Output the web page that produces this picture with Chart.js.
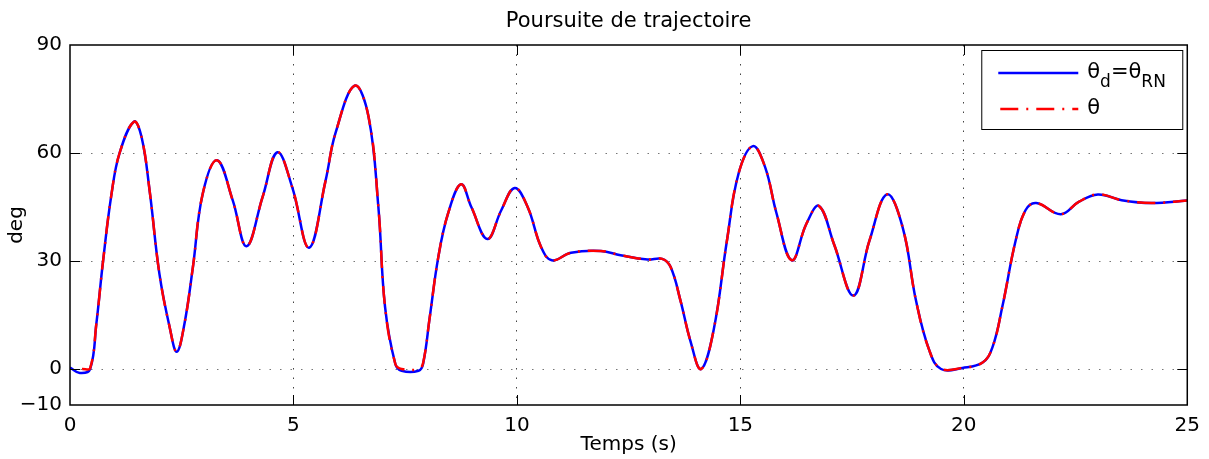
<!DOCTYPE html>
<html lang="fr">
<head>
<meta charset="UTF-8">
<title>Poursuite de trajectoire</title>
<script src="https://cdn.jsdelivr.net/npm/chart.js"></script>
<style>
    body { margin: 0; background: #fff; }
    #wrap { width: 1209px; height: 459px; }
</style>
</head>
<body>
<div id="wrap"><canvas id="chart" width="1209" height="459"></canvas></div>
<script>
    // consigne theta_d = theta_RN (deg)
    const tempsD = [0, 0.22, 0.45, 0.59, 0.74, 0.93, 1.11, 1.43, 1.6, 1.78, 2.0, 2.23, 2.39, 2.56, 2.75, 2.97,
        3.29, 3.64, 3.95, 4.31, 4.64, 4.97, 5.35, 5.72, 5.94, 6.37, 6.68, 6.9, 7.05, 7.28, 7.42, 7.8, 7.9,
        8.05, 8.24, 8.46, 8.75, 8.98, 9.34, 9.65, 9.95, 10.24, 10.54, 10.78, 11.21, 11.88, 12.32, 12.92,
        13.25, 13.44, 13.66, 13.88, 14.12, 14.4, 14.7, 14.96, 15.28, 15.55, 15.81, 16.15, 16.48, 16.76,
        17.1, 17.53, 17.89, 18.28, 18.63, 18.93, 19.23, 19.49, 19.97, 20.42, 20.64, 20.86, 21.16, 21.38,
        21.62, 22.17, 22.57, 23.0, 23.53, 24.2, 25];
    const thetaD = [0.4, -1.1, 0, 12.6, 30, 48.7, 60, 68.7, 64.5, 49.7, 26.5, 11.6, 4.8, 12.5, 28.3, 48.7,
        58, 46.9, 34.1, 47.8, 60.2, 50.6, 33.7, 52.4, 65.5, 78.7, 70.1, 45, 17.2, 1.4, -0.5, -0.5, 1.4,
        14.4, 31, 43.2, 51.3, 45, 36.1, 44.1, 50.3, 45, 33.9, 30.2, 32.3, 32.8, 31.6, 30.4,
        30.6, 28.3, 19, 7.9, 0, 10.7, 35.7, 54.3, 61.9, 56.2, 43.2, 30.2, 40.4, 45.3,
        34.5, 20.4, 35.7, 48.5, 39.4, 19, 5.1, 0, 0.3, 1.8, 6, 17.2, 35.7, 44.1,
        46.1, 43, 46.4, 48.5, 46.9, 46.1, 46.8];

    // sortie theta (deg)
    const tempsM = [0.27, 0.45, 0.59, 0.74, 0.93, 1.11, 1.43, 1.6, 1.78, 2.0, 2.23, 2.39, 2.56, 2.75, 2.97,
        3.29, 3.64, 3.95, 4.31, 4.64, 4.97, 5.35, 5.72, 5.94, 6.37, 6.68, 6.9, 7.05, 7.28, 7.42, 7.8, 7.9,
        8.05, 8.24, 8.46, 8.75, 8.98, 9.34, 9.65, 9.95, 10.24, 10.54, 10.78, 11.21, 11.88, 12.32, 12.92,
        13.25, 13.44, 13.66, 13.88, 14.12, 14.4, 14.7, 14.96, 15.28, 15.55, 15.81, 16.15, 16.48, 16.76,
        17.1, 17.53, 17.89, 18.28, 18.63, 18.93, 19.23, 19.49, 19.97, 20.42, 20.64, 20.86, 21.16, 21.38,
        21.62, 22.17, 22.57, 23.0, 23.53, 24.2, 25];
    const thetaM = [0, 0.2, 12.6, 30, 48.7, 60, 68.7, 64.5, 49.7, 26.5, 11.6, 4.8, 12.5, 28.3, 48.7,
        58, 46.9, 34.1, 47.8, 60.2, 50.6, 33.7, 52.4, 65.5, 78.7, 70.1, 45, 17.2, 1.4, 0, 0, 1.6,
        14.4, 31, 43.2, 51.3, 45, 36.1, 44.1, 50.3, 45, 33.9, 30.2, 32.3, 32.8, 31.6, 30.4,
        30.6, 28.3, 19, 7.9, 0, 10.7, 35.7, 54.3, 61.9, 56.2, 43.2, 30.2, 40.4, 45.3,
        34.5, 20.4, 35.7, 48.5, 39.4, 19, 5.1, 0.1, 0.3, 1.8, 6, 17.2, 35.7, 44.1,
        46.1, 43, 46.4, 48.5, 46.9, 46.1, 46.8];

    const xTicks = [0, 5, 10, 15, 20, 25];
    const yTicks = [-10, 0, 30, 60, 90];

    // legende : morceaux [texte, indice?]
    const legendLabels = [
        [['θ', false], ['d', true], ['=', false], ['θ', false], ['RN', true]],
        [['θ', false]]
    ];

    const FONT = 'DejaVu Sans';
    Chart.defaults.font.family = FONT;
    Chart.defaults.color = '#000';

    const toPoints = (xs, ys) => xs.map((x, i) => ({ x: x, y: ys[i] }));

    // cadre + graduations vers l'interieur (style MATLAB)
    const framePlugin = {
        id: 'frame',
        afterDatasetsDraw(chart) {
            const { ctx, chartArea: a, scales } = chart;
            const len = 10;
            ctx.save();
            ctx.strokeStyle = '#000';
            ctx.lineWidth = 1;
            ctx.beginPath();
            xTicks.slice(1, -1).forEach(v => {
                const px = Math.round(scales.x.getPixelForValue(v)) + 0.5;
                ctx.moveTo(px, a.bottom); ctx.lineTo(px, a.bottom - len);
                ctx.moveTo(px, a.top); ctx.lineTo(px, a.top + len);
            });
            yTicks.slice(1, -1).forEach(v => {
                const py = Math.round(scales.y.getPixelForValue(v)) + 0.5;
                ctx.moveTo(a.left, py); ctx.lineTo(a.left + len, py);
                ctx.moveTo(a.right, py); ctx.lineTo(a.right - len, py);
            });
            ctx.stroke();
            ctx.lineWidth = 1.5;
            ctx.strokeRect(a.left, a.top, a.right - a.left, a.bottom - a.top);
            ctx.restore();
        }
    };

    const legendPlugin = {
        id: 'matlabLegend',
        afterDraw(chart) {
            const ctx = chart.ctx;
            const a = chart.chartArea;
            const box = { x: a.right - 206, y: a.top + 5, w: 201, h: 79 };
            ctx.save();
            ctx.fillStyle = '#fff';
            ctx.fillRect(box.x, box.y, box.w, box.h);
            ctx.strokeStyle = '#000';
            ctx.lineWidth = 1;
            ctx.strokeRect(box.x + 0.5, box.y + 0.5, box.w, box.h);
            chart.data.datasets.forEach((ds, i) => {
                const ly = box.y + 23 + i * 36;
                ctx.beginPath();
                ctx.strokeStyle = ds.borderColor;
                ctx.lineWidth = ds.borderWidth;
                ctx.setLineDash(ds.borderDash || []);
                ctx.lineDashOffset = -2;
                ctx.moveTo(box.x + 17, ly);
                ctx.lineTo(box.x + 97, ly);
                ctx.stroke();
                ctx.setLineDash([]);
                let tx = box.x + 106;
                const base = ly + 5;
                ctx.fillStyle = '#000';
                ctx.textBaseline = 'alphabetic';
                ctx.textAlign = 'left';
                legendLabels[i].forEach(([txt, sub]) => {
                    ctx.font = (sub ? '17px ' : '21px ') + FONT;
                    ctx.fillText(txt, tx, sub ? base + 9 : base);
                    tx += ctx.measureText(txt).width;
                });
            });
            ctx.restore();
        }
    };

    new Chart(document.getElementById('chart'), {
        type: 'line',
        data: {
            datasets: [
                {
                    label: 'θd=θRN',
                    data: toPoints(tempsD, thetaD),
                    borderColor: '#0000ff',
                    borderWidth: 2.5,
                    pointRadius: 0,
                    tension: 0.4,
                    order: 2,
                    fill: false
                },
                {
                    label: 'θ',
                    data: toPoints(tempsM, thetaM),
                    borderColor: '#ff0000',
                    borderWidth: 2.5,
                    borderDash: [18, 8, 2, 8],
                    pointRadius: 0,
                    tension: 0.4,
                    order: 1,
                    fill: false
                }
            ]
        },
        options: {
            responsive: false,
            animation: false,
            layout: { padding: { left: 0, right: 17, top: 0, bottom: 0 } },
            plugins: {
                legend: { display: false },
                tooltip: { enabled: false },
                title: {
                    display: true,
                    fullSize: false,
                    text: 'Poursuite de trajectoire',
                    font: { size: 21, weight: 'normal', family: FONT },
                    color: '#000',
                    padding: { top: 9, bottom: 10.8 }
                }
            },
            scales: {
                x: {
                    type: 'linear',
                    min: 0,
                    max: 25,
                    afterBuildTicks: s => { s.ticks = xTicks.map(v => ({ value: v })); },
                    afterFit: s => { s.height = 54; },
                    ticks: { font: { size: 20 }, color: '#000', padding: 9, autoSkip: false, maxRotation: 0 },
                    grid: {
                        drawTicks: false,
                        lineWidth: 1,
                        color: c => (c.tick && c.tick.value > 0 && c.tick.value < 25) ? '#444' : 'rgba(0,0,0,0)'
                    },
                    border: { display: false, dash: [1.5, 8] },
                    title: { display: true, text: 'Temps (s)', font: { size: 20 }, color: '#000', padding: { top: 0, bottom: 2 } }
                },
                y: {
                    min: -10,
                    max: 90,
                    afterBuildTicks: s => { s.ticks = yTicks.map(v => ({ value: v })); },
                    afterFit: s => { s.width = 70; },
                    ticks: {
                        font: { size: 20 },
                        color: '#000',
                        padding: 8,
                        autoSkip: false,
                        callback: v => (v < 0 ? '\u2212' + Math.abs(v) : String(v))
                    },
                    grid: {
                        drawTicks: false,
                        lineWidth: 1,
                        color: c => (c.tick && c.tick.value > -10 && c.tick.value < 90) ? '#777' : 'rgba(0,0,0,0)'
                    },
                    border: { display: false, dash: [1.5, 9] },
                    title: { display: true, text: 'deg', font: { size: 20 }, color: '#000', padding: { top: 5, bottom: 0 } }
                }
            }
        },
        plugins: [framePlugin, legendPlugin]
    });
</script>
</body>
</html>
